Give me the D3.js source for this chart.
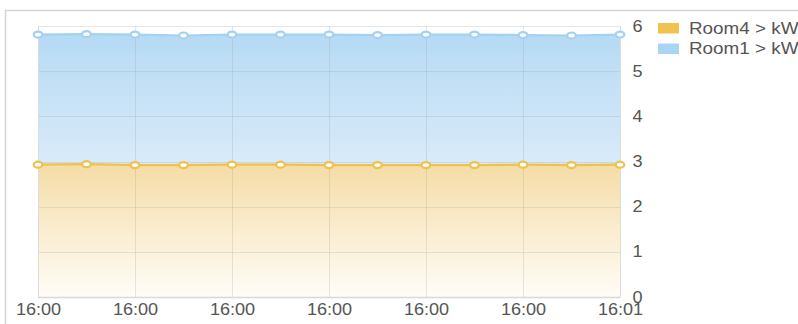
<!DOCTYPE html>
<html>
<head>
<meta charset="utf-8">
<script src="https://cdn.jsdelivr.net/npm/d3@7"></script>
<style>
  html, body { margin: 0; padding: 0; background: #fff; overflow: hidden; }
  svg { display: block; font-family: "Liberation Sans", Arial, sans-serif; }
</style>
</head>
<body>
<svg id="chart" width="798" height="324"></svg>
<script>
// Sample times (one sample every few seconds, labelled to the minute)
const times = ["16:00","16:00","16:00","16:00","16:00","16:00","16:00","16:00","16:00","16:00","16:00","16:00","16:01"];
const xTickLabels = ["16:00","16:00","16:00","16:00","16:00","16:00","16:01"];
const yTicks = [0, 1, 2, 3, 4, 5, 6];

// Power readings (kW), stacked: Room4 at the bottom, Room1 on top
const room4 = [2.93, 2.94, 2.92, 2.92, 2.93, 2.93, 2.92, 2.92, 2.92, 2.92, 2.93, 2.92, 2.93];
const room1 = [2.88, 2.88, 2.89, 2.87, 2.88, 2.88, 2.89, 2.88, 2.89, 2.89, 2.87, 2.87, 2.88];

const seriesNames = ["Room4 > kW", "Room1 > kW"];
const seriesColors = ["#f1c24f", "#a8d5f6"];

const svg = d3.select("#chart");
const plot = { left: 38, right: 620, top: 26, bottom: 297 };
const textStretch = 1.13;

const x = d3.scaleLinear().domain([0, times.length - 1]).range([plot.left, plot.right]);
const y = d3.scaleLinear().domain([0, 6]).range([plot.bottom, plot.top]);

// Outer panel frame
svg.append("path")
  .attr("d", `M5.5,324 V10.5 H798`)
  .attr("fill", "none").attr("stroke", "#d4d4d4").attr("stroke-width", 1.5);

// Gradients for the stacked areas
const defs = svg.append("defs");
const gradStops = [
  [{ o: 0, c: "#f5dca6" }, { o: 1, c: "#fffdf8" }],
  [{ o: 0, c: "#b5daf4" }, { o: 1, c: "#d9ebf9" }]
];
gradStops.forEach((stops, i) => {
  const g = defs.append("linearGradient").attr("id", "grad" + i)
    .attr("x1", 0).attr("y1", 0).attr("x2", 0).attr("y2", 1);
  stops.forEach(s => g.append("stop").attr("offset", s.o).attr("stop-color", s.c));
});

// Stack the series
const rows = times.map((t, i) => ({ i, r4: room4[i], r1: room1[i] }));
const stacked = d3.stack().keys(["r4", "r1"])(rows);

// Areas
const area = d3.area()
  .x(d => x(d.data.i))
  .y0(d => y(d[0]))
  .y1(d => y(d[1]));

stacked.forEach((s, k) => {
  svg.append("path").datum(s)
    .attr("d", area)
    .attr("fill", `url(#grad${k})`);
});

// Grid lines (drawn over the fill, subtle)
const grid = svg.append("g");
grid.selectAll("line.h").data(yTicks).join("line")
  .attr("x1", plot.left).attr("x2", plot.right)
  .attr("y1", d => Math.round(y(d)) + 0.5).attr("y2", d => Math.round(y(d)) + 0.5)
  .attr("stroke", d => d === 0 ? "#d8d8d8" : "rgba(160,160,160,0.25)")
  .attr("stroke-width", d => d === 0 ? 1.5 : 1);
grid.selectAll("line.v").data(xTickLabels).join("line")
  .attr("x1", (d, i) => Math.round(x(i * 2)) + 0.5).attr("x2", (d, i) => Math.round(x(i * 2)) + 0.5)
  .attr("y1", plot.top).attr("y2", plot.bottom)
  .attr("stroke", (d, i) => (i === 0 || i === xTickLabels.length - 1) ? "#dcdcdc" : "rgba(160,160,160,0.25)")
  .attr("stroke-width", 1);

// Series lines
const line = d3.line().x(d => x(d.data.i)).y(d => y(d[1]));
const lineColors = ["#f0c14b", "#a3d1f3"];
stacked.forEach((s, k) => {
  svg.append("path").datum(s)
    .attr("d", line)
    .attr("fill", "none")
    .attr("stroke", lineColors[k])
    .attr("stroke-width", 2.2);
});

// Point markers
stacked.forEach((s, k) => {
  svg.append("g").selectAll("ellipse").data(s).join("ellipse")
    .attr("cx", d => x(d.data.i))
    .attr("cy", d => y(d[1]))
    .attr("rx", 4.3).attr("ry", 3)
    .attr("fill", "#fff")
    .attr("stroke", lineColors[k])
    .attr("stroke-width", 2.2);
});

// Y axis (right side)
const yAxis = d3.axisRight(y).tickValues(yTicks).tickSize(0).tickPadding(11).tickFormat(d3.format("d"));
const gy = svg.append("g").attr("transform", `translate(${plot.right},0)`).call(yAxis);
gy.select(".domain").remove();
gy.selectAll("text").attr("font-size", 16).attr("fill", "#555")
  .attr("font-family", "Liberation Sans, Arial, sans-serif")
  .attr("transform", `scale(${textStretch},1)`);

// X axis labels
const xAxis = d3.axisBottom(x)
  .tickValues(d3.range(0, times.length, 2))
  .tickSize(0).tickPadding(7)
  .tickFormat((d, i) => xTickLabels[i]);
const gx = svg.append("g").attr("transform", `translate(0,${plot.bottom})`).call(xAxis);
gx.select(".domain").remove();
gx.selectAll("text").attr("font-size", 16).attr("fill", "#555")
  .attr("font-family", "Liberation Sans, Arial, sans-serif")
  .attr("transform", `scale(${textStretch},1)`);

// Legend
const legend = svg.append("g").attr("transform", "translate(658,23)");
seriesNames.forEach((name, i) => {
  const g = legend.append("g").attr("transform", `translate(0,${i * 20.5})`);
  g.append("rect").attr("width", 21).attr("height", 10.5).attr("fill", seriesColors[i]);
  g.append("text").attr("x", 31).attr("y", 10.5).attr("font-size", 16).attr("fill", "#555")
    .attr("transform", "translate(31,0) scale(1.18,1) translate(-31,0)")
    .text(name);
});
</script>
</body>
</html>
